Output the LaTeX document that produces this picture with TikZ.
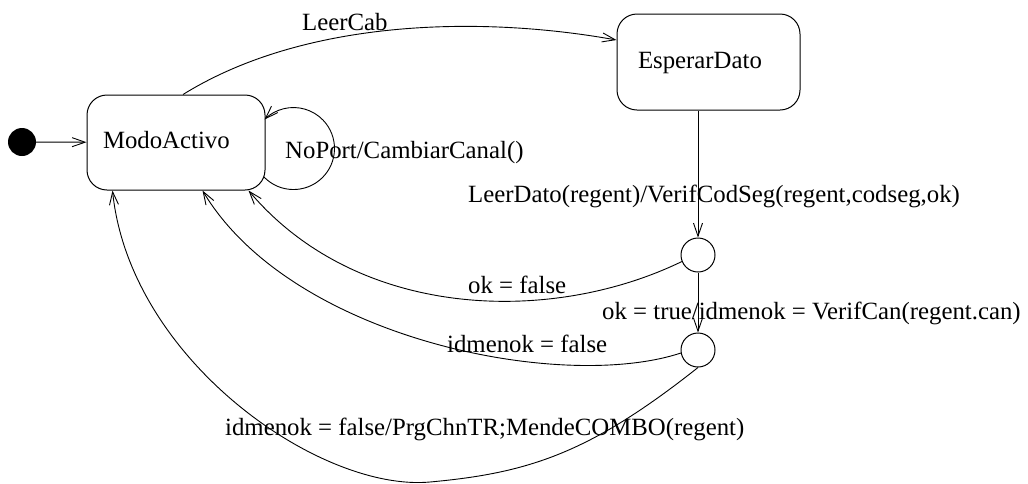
\documentclass[tikz,border=0pt]{standalone}
\usepackage{fontspec}
\setmainfont{Liberation Serif}
\usetikzlibrary{arrows.meta,calc}
\begin{document}
\begin{tikzpicture}[x=1pt,y=-1pt,
  font=\fontsize{24.8}{28}\selectfont,
  state/.style={draw, line width=1pt, rounded corners=20pt, inner ysep=0pt, align=left},
  junc/.style={draw, circle, line width=1pt, minimum size=34pt, inner sep=0pt},
  conn/.style={line width=0.9pt, -{Straight Barb[length=13pt,width=9pt]}},
  lbl/.style={anchor=base west, inner sep=0pt}]
\useasboundingbox (0,0) rectangle (1028,483);
\fill[white] (0,0) rectangle (1028,483);
% nodes
\node[circle, fill=black, minimum size=28pt, inner sep=0pt] (init) at (22,142) {};
\node[state, minimum width=178pt, minimum height=95pt, text width=146pt, inner xsep=16pt, text height=17pt, text depth=6pt] (ma) at (176,142.5) {ModoActivo};
\node[state, minimum width=183pt, minimum height=96pt, text width=141pt, inner xsep=21pt, text height=17pt, text depth=5pt] (es) at (708.5,62) {EsperarDato};
\node[junc] (j1) at (698,255) {};
\node[junc] (j2) at (698,350) {};
\coordinate (bot) at (430,482);
% connectors
\draw[conn] (init) -- (ma);
\draw[conn] ([xshift=7pt]ma.north) .. controls (303,20) and (477,15) .. ([yshift=22pt]es.west);
\draw[conn] ([xshift=-1.5pt,yshift=13.5pt]ma.south east) arc[start angle=136, end angle=-135, radius=41];
\draw[conn] (es.south -| j1) -- (j1);
\draw[conn] (j1.202) .. controls (551,325) and (358,320) .. ([xshift=-17pt]ma.south east);
\draw[conn] (j1) -- (j2);
\draw[conn] (j2.south) .. controls (590,453) and (529,473) .. (bot)
  .. controls (320,492) and (130,360) .. ([xshift=26pt]ma.south west);
\draw[conn] (j2.190) .. controls (563,392) and (292,340) .. ([xshift=-63pt]ma.south east);
% labels
\node[lbl] (lLeerCab) at (302,30) {LeerCab};
\node[lbl] (lNoPort) at (285,158) {NoPort/CambiarCanal()};
\node[lbl] (lLeerDato) at (468,202) {LeerDato(regent)/VerifCodSeg(regent,codseg,ok)};
\node[lbl] (lokf) at (468,293) {ok = false};
\node[lbl] (lokt) at (602,319) {ok = true/idmenok = VerifCan(regent.can)};
\node[lbl] (lidf) at (447,352) {idmenok = false};
\node[lbl] (lidf2) at (225,435) {idmenok = false/PrgChnTR;MendeCOMBO(regent)};
\end{tikzpicture}
\end{document}
